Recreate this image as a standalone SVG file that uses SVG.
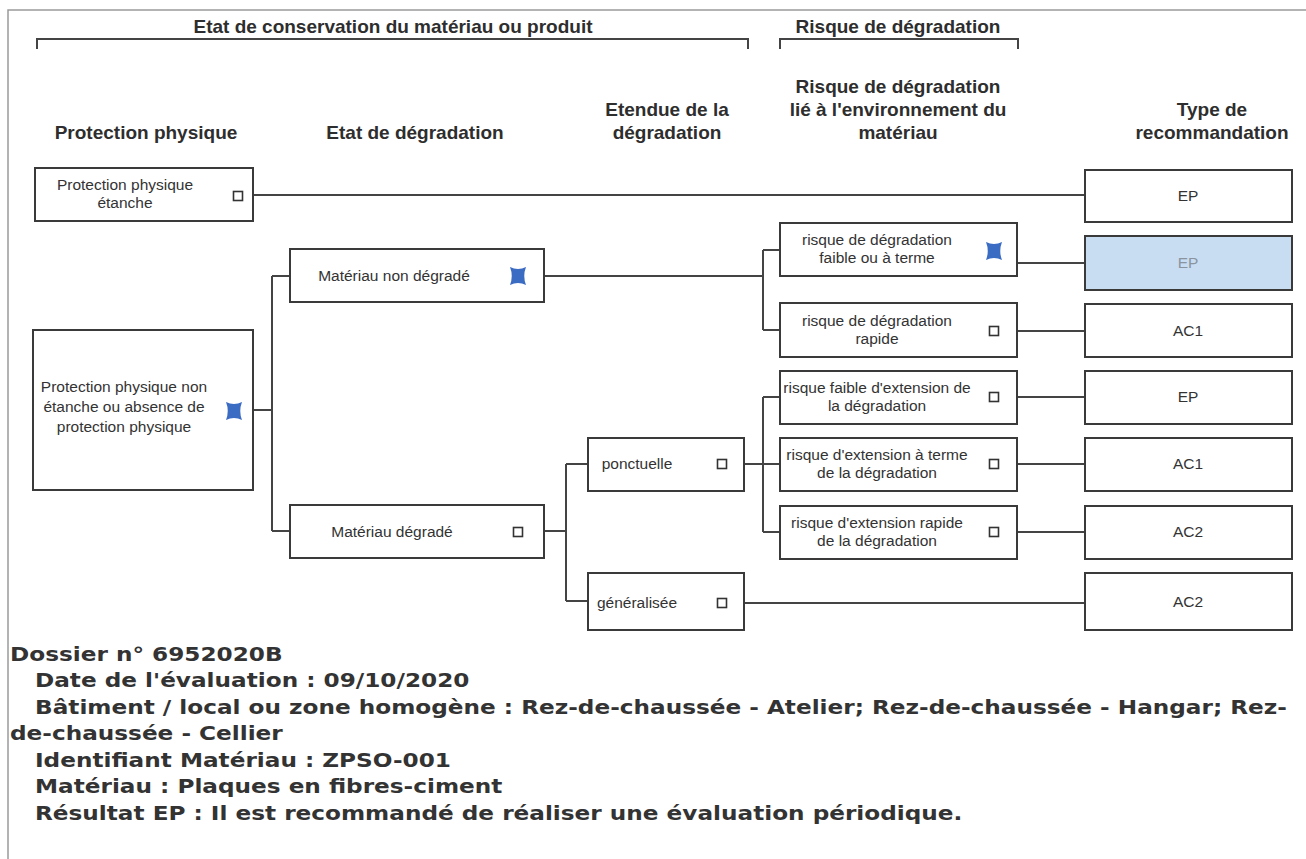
<svg xmlns="http://www.w3.org/2000/svg" xmlns:xlink="http://www.w3.org/1999/xlink" width="1306" height="859" viewBox="0 0 1306 859">
<defs>
<style>
.box{fill:#fff;stroke:#3a3a3a;stroke-width:2}
.hl{fill:#c8ddf2;stroke:#3a3a3a;stroke-width:2}
.ln{fill:none;stroke:#444;stroke-width:2}
.frame{fill:none;stroke:#9a9a9a;stroke-width:1.5}
.hdr{font-family:"Liberation Sans",Arial,sans-serif;font-weight:bold;font-size:19px;fill:#2e2e2e;text-anchor:middle}
.t{font-family:"Liberation Sans",Arial,sans-serif;font-size:15.5px;fill:#333;text-anchor:middle}
.r{font-family:"Liberation Sans",Arial,sans-serif;font-size:15.5px;fill:#333;text-anchor:middle}
.ft{font-family:"DejaVu Sans",Verdana,sans-serif;font-weight:bold;font-size:19px;fill:#333}
.cb{fill:#fff;stroke:#333;stroke-width:1.6}
.st{fill:#3b6cc4}
</style>
<rect id="cbx" class="cb" x="-4.5" y="-4.5" width="9" height="9"/>
<path id="star" class="st" d="M-8,-9 Q0,-5 8,-9 Q4.5,0 8,9 Q0,5 -8,9 Q-4.5,0 -8,-9Z"/>
</defs>
<rect width="1306" height="859" fill="#fff"/>
<path class="frame" d="M8,859 V10 H1306"/>

<g id="headers">
<text class="hdr" x="393" y="33">Etat de conservation du matériau ou produit</text>
<path class="ln" d="M37,49 V39 H748 V49"/>
<text class="hdr" x="898" y="33">Risque de dégradation</text>
<path class="ln" d="M780,49 V39 H1018 V49"/>
<text class="hdr" x="146" y="139">Protection physique</text>
<text class="hdr" x="415" y="139">Etat de dégradation</text>
<text class="hdr" x="667" y="116">Etendue de la</text>
<text class="hdr" x="667" y="139">dégradation</text>
<text class="hdr" x="898" y="93">Risque de dégradation</text>
<text class="hdr" x="898" y="116">lié à l'environnement du</text>
<text class="hdr" x="898" y="139">matériau</text>
<text class="hdr" x="1212" y="116">Type de</text>
<text class="hdr" x="1212" y="139">recommandation</text>
</g>

<g id="connectors">
<path class="ln" d="M253,195 H1085"/>
<path class="ln" d="M253,410 H272 M272,276 V531 M272,276 H290 M272,531 H290"/>
<path class="ln" d="M544,276 H763 M763,250 V330 M763,250 H780 M763,330 H780"/>
<path class="ln" d="M544,531 H566 M566,464 V601 M566,464 H588 M566,601 H588"/>
<path class="ln" d="M744,464 H763 M763,397 V532 M763,397 H780 M763,464 H780 M763,532 H780"/>
<path class="ln" d="M744,603 H1085"/>
<path class="ln" d="M1017,263 H1085 M1017,331 H1085 M1017,397 H1085 M1017,464 H1085 M1017,532 H1085"/>
</g>

<g id="n-pp-etanche">
<rect class="box" x="35" y="168" width="218" height="53"/>
<text class="t" x="125" y="190">Protection physique</text>
<text class="t" x="125" y="208">étanche</text>
<use xlink:href="#cbx" x="238" y="196"/>
</g>
<g id="n-pp-non-etanche">
<rect class="box" x="33" y="330" width="220" height="160"/>
<text class="t" x="124" y="392">Protection physique non</text>
<text class="t" x="124" y="412">étanche ou absence de</text>
<text class="t" x="124" y="432">protection physique</text>
<use xlink:href="#star" x="234" y="411"/>
</g>
<g id="n-non-degrade">
<rect class="box" x="290" y="249" width="254" height="53"/>
<text class="t" x="394" y="281">Matériau non dégradé</text>
<use xlink:href="#star" x="518" y="276"/>
</g>
<g id="n-degrade">
<rect class="box" x="290" y="505" width="254" height="53"/>
<text class="t" x="392" y="537">Matériau dégradé</text>
<use xlink:href="#cbx" x="518" y="532"/>
</g>
<g id="n-ponctuelle">
<rect class="box" x="588" y="438" width="156" height="53"/>
<text class="t" x="637" y="469">ponctuelle</text>
<use xlink:href="#cbx" x="722" y="464"/>
</g>
<g id="n-generalisee">
<rect class="box" x="588" y="573" width="156" height="57"/>
<text class="t" x="637" y="608">généralisée</text>
<use xlink:href="#cbx" x="722" y="603"/>
</g>
<g id="n-risque-faible">
<rect class="box" x="780" y="223" width="237" height="53"/>
<text class="t" x="877" y="245">risque de dégradation</text>
<text class="t" x="877" y="263">faible ou à terme</text>
<use xlink:href="#star" x="994" y="251"/>
</g>
<g id="n-risque-rapide">
<rect class="box" x="780" y="303" width="237" height="54"/>
<text class="t" x="877" y="326">risque de dégradation</text>
<text class="t" x="877" y="344">rapide</text>
<use xlink:href="#cbx" x="994" y="331"/>
</g>
<g id="n-ext-faible">
<rect class="box" x="780" y="371" width="237" height="53"/>
<text class="t" x="877" y="393">risque faible d'extension de</text>
<text class="t" x="877" y="411">la dégradation</text>
<use xlink:href="#cbx" x="994" y="397"/>
</g>
<g id="n-ext-terme">
<rect class="box" x="780" y="438" width="237" height="53"/>
<text class="t" x="877" y="460">risque d'extension à terme</text>
<text class="t" x="877" y="478">de la dégradation</text>
<use xlink:href="#cbx" x="994" y="464"/>
</g>
<g id="n-ext-rapide">
<rect class="box" x="780" y="506" width="237" height="53"/>
<text class="t" x="877" y="528">risque d'extension rapide</text>
<text class="t" x="877" y="546">de la dégradation</text>
<use xlink:href="#cbx" x="994" y="532"/>
</g>

<g id="rec-1"><rect class="box" x="1085" y="170" width="207" height="52"/><text class="r" x="1188" y="201">EP</text></g>
<g id="rec-2"><rect class="hl" x="1085" y="236" width="207" height="54"/><text class="r" x="1188" y="268" style="fill:#8a949e">EP</text></g>
<g id="rec-3"><rect class="box" x="1085" y="304" width="207" height="53"/><text class="r" x="1188" y="336">AC1</text></g>
<g id="rec-4"><rect class="box" x="1085" y="371" width="207" height="53"/><text class="r" x="1188" y="402">EP</text></g>
<g id="rec-5"><rect class="box" x="1085" y="438" width="207" height="53"/><text class="r" x="1188" y="469">AC1</text></g>
<g id="rec-6"><rect class="box" x="1085" y="506" width="207" height="53"/><text class="r" x="1188" y="537">AC2</text></g>
<g id="rec-7"><rect class="box" x="1085" y="573" width="207" height="57"/><text class="r" x="1188" y="607">AC2</text></g>

<g id="info" transform="scale(1.22,1)">
<text class="ft" x="8.2" y="661">Dossier n° 6952020B</text>
<text class="ft" x="28.7" y="687">Date de l'évaluation : 09/10/2020</text>
<text class="ft" x="28.7" y="714">Bâtiment / local ou zone homogène : Rez-de-chaussée - Atelier; Rez-de-chaussée - Hangar; Rez-</text>
<text class="ft" x="8.2" y="740">de-chaussée - Cellier</text>
<text class="ft" x="28.7" y="767">Identifiant Matériau : ZPSO-001</text>
<text class="ft" x="28.7" y="793">Matériau : Plaques en fibres-ciment</text>
<text class="ft" x="28.7" y="820">Résultat EP : Il est recommandé de réaliser une évaluation périodique.</text>
</g>
</svg>
